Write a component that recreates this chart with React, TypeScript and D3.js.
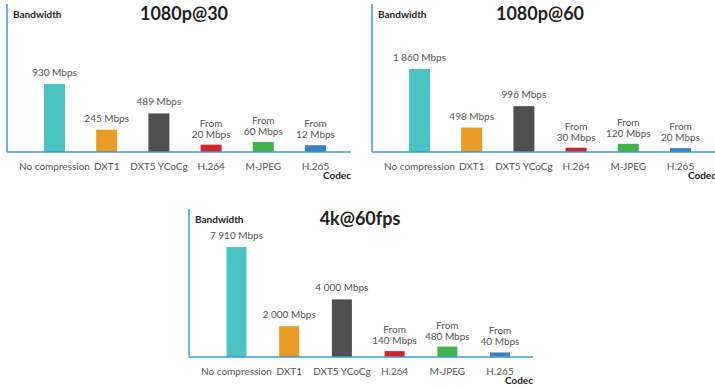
import React from "react";
import * as d3 from "d3";

const categories = ["No compression", "DXT1", "DXT5 YCoCg", "H.264", "M-JPEG", "H.265"];
const barColors = ["#4ac3c3", "#e99c23", "#505050", "#d3242a", "#41b449", "#3a7fbf"];
const fromFlags = [false, false, false, true, true, true];
const titles = ["1080p@30", "1080p@60", "4k@60fps"];
const values1080p30 = [930, 245, 489, 20, 60, 12];
const values1080p60 = [1860, 498, 996, 30, 120, 20];
const values4k60 = [7910, 2000, 4000, 140, 480, 40];
const yAxisLabel = "Bandwidth";
const xAxisLabel = "Codec";

const locale = d3.formatLocale({ decimal: ".", thousands: " ", grouping: [3], currency: ["", ""] });
const fmt = locale.format(",d");

const FONT = "Lato, 'Open Sans', sans-serif";
const AXIS = "#3a9ad9";

type PanelProps = {
  title: string;
  values: number[];
  dx: number;
  dy: number;
  titleX: number;
  firstCenter: number;
  lastCenter: number;
  minH: number;
  maxH: number;
  barW: number;
};

function Panel({ title, values, dx, dy, titleX, firstCenter, lastCenter, minH, maxH, barW }: PanelProps) {
  const axisX = 7;
  const axisTop = 4;
  const baseY = 152;
  const axisRight = 351;
  const x = d3.scalePoint<string>().domain(categories).range([firstCenter, lastCenter]);
  const h = d3.scaleLinear().domain([0, d3.max(values) as number]).range([minH, maxH]);
  const y = (v: number) => baseY - h(v);
  return (
    <g transform={`translate(${dx},${dy})`}>
      {values.map((v, i) => {
        const cx = x(categories[i]) as number;
        const top = y(v);
        return (
          <g key={i}>
            <rect x={cx - barW / 2} y={top} width={barW} height={baseY - top} fill={barColors[i]} />
            {fromFlags[i] ? (
              <text x={cx} y={top - 7} textAnchor="middle" fontSize={10} fill="#555" fontFamily={FONT}>
                <tspan x={cx} dy={-11}>From</tspan>
                <tspan x={cx} dy={11}>{fmt(v)} Mbps</tspan>
              </text>
            ) : (
              <text x={cx} y={top - 8} textAnchor="middle" fontSize={10} fill="#555" fontFamily={FONT}>
                {fmt(v)} Mbps
              </text>
            )}
            <text x={cx} y={baseY + 18} textAnchor="middle" fontSize={10} fill="#555" fontFamily={FONT}>
              {categories[i]}
            </text>
          </g>
        );
      })}
      <line x1={axisX} x2={axisX} y1={axisTop} y2={baseY} stroke={AXIS} strokeWidth={1.5} />
      <line x1={axisX} x2={axisRight} y1={baseY} y2={baseY} stroke={AXIS} strokeWidth={1.5} />
      <text x={axisX + 6} y={18} fontSize={10} fontWeight={700} fill="#222" fontFamily={FONT}>
        {yAxisLabel}
      </text>
      <text x={titleX} y={20} textAnchor="middle" fontSize={18} fontWeight={700} fill="#222" fontFamily={FONT}>
        {title}
      </text>
      <text x={axisRight} y={baseY + 27} textAnchor="end" fontSize={10} fontWeight={700} fill="#222" fontFamily={FONT}>
        {xAxisLabel}
      </text>
    </g>
  );
}

export default function App() {
  return (
    <svg width={715} height={388} style={{ position: "absolute", left: 0, top: 0, background: "#fff" }}>
      <Panel title={titles[0]} values={values1080p30} dx={0} dy={0} titleX={184} firstCenter={54.5} lastCenter={315.5} minH={6} maxH={68} barW={21} />
      <Panel title={titles[1]} values={values1080p60} dx={365} dy={0} titleX={175} firstCenter={54.5} lastCenter={315.5} minH={3} maxH={83} barW={21} />
      <Panel title={titles[2]} values={values4k60} dx={182} dy={205} titleX={178} firstCenter={54.5} lastCenter={318} minH={4} maxH={110} barW={20} />
    </svg>
  );
}
